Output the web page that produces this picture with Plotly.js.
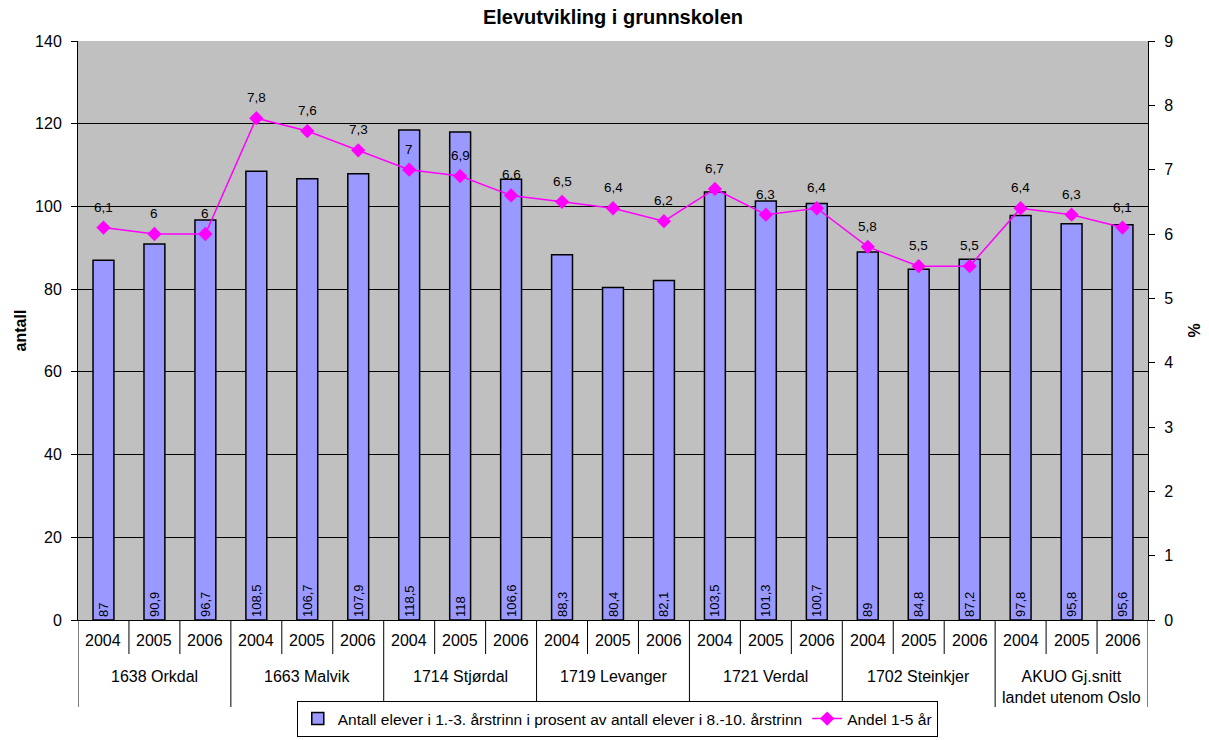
<!DOCTYPE html>
<html>
<head>
<meta charset="utf-8">
<script src="https://cdn.plot.ly/plotly-3.0.1.min.js"></script>
<style>html,body{margin:0;padding:0;background:#fff;}#chart{width:1209px;height:740px;}</style>
</head>
<body>
<div id="chart"></div>
<script>
const groups = ["1638 Orkdal", "1663 Malvik", "1714 Stjørdal", "1719 Levanger", "1721 Verdal", "1702 Steinkjer", "AKUO Gj.snitt<br>landet utenom Oslo"];
const years = ["2004", "2005", "2006"];
const antall = [87, 90.9, 96.7, 108.5, 106.7, 107.9, 118.5, 118, 106.6, 88.3, 80.4, 82.1, 103.5, 101.3, 100.7, 89, 84.8, 87.2, 97.8, 95.8, 95.6];
const andel = [6.1, 6, 6, 7.8, 7.6, 7.3, 7, 6.9, 6.6, 6.5, 6.4, 6.2, 6.7, 6.3, 6.4, 5.8, 5.5, 5.5, 6.4, 6.3, 6.1];
const barName = "Antall elever i 1.-3. årstrinn i prosent av antall elever i 8.-10. årstrinn";
const lineName = "Andel 1-5 år";

const FONT = 'Liberation Sans, Arial, sans-serif';
const fmt = v => String(v).replace('.', ',');
const n = antall.length;
const xs = antall.map((_, i) => i);

const plotH = 579; // pixel height of plot area
const py = px => -(px) / plotH; // pixels below axis -> paper y

const annotations = [];
const shapes = [];
// line labels
andel.forEach((v, i) => {
  annotations.push({x: i, y: v, xref: 'x', yref: 'y2', text: fmt(v), showarrow: false,
    yanchor: 'bottom', yshift: 11, font: {family: FONT, size: 13.5, color: '#000'}});
});
// year labels
xs.forEach(i => {
  annotations.push({x: i, y: py(20), xref: 'x', yref: 'paper', text: years[i % 3], showarrow: false,
    yanchor: 'middle', font: {family: FONT, size: 16, color: '#000'}});
});
// group labels
groups.forEach((g, gi) => {
  annotations.push({x: gi * 3 + 1, y: py(46), xref: 'x', yref: 'paper', text: g, showarrow: false,
    yanchor: 'top', font: {family: FONT, size: 16, color: '#000'}});
});
// axis table lines
for (let k = 0; k <= n; k++) {
  const xv = k - 0.5;
  const isGroup = (k % 3 === 0);
  shapes.push({type: 'line', xref: 'x', yref: 'paper', x0: xv, x1: xv, y0: 0, y1: isGroup ? py(87) : py(34),
    line: {color: '#000', width: 1}});
}

const traces = [
  {type: 'bar', x: xs, y: antall, name: barName, yaxis: 'y',
   marker: {color: '#9999FF', line: {color: '#000', width: 1.5}},
   width: 0.41,
   text: antall.map(fmt), textposition: 'inside', insidetextanchor: 'start', textangle: -90,
   constraintext: 'none',
   insidetextfont: {family: FONT, size: 13, color: '#000'},
   hoverinfo: 'skip'},
  {type: 'scatter', mode: 'lines+markers', x: xs, y: andel, name: lineName, yaxis: 'y2',
   line: {color: '#FF00FF', width: 1.5},
   marker: {symbol: 'diamond', size: 11, color: '#FF00FF'},
   hoverinfo: 'skip'}
];

const layout = {
  width: 1209, height: 740,
  margin: {l: 78, r: 61, t: 41, b: 120, autoexpand: false},
  paper_bgcolor: '#fff', plot_bgcolor: '#C0C0C0',
  font: {family: FONT, size: 16, color: '#000'},
  title: {text: '<b>Elevutvikling i grunnskolen</b>', x: 0.507, xanchor: 'center', y: 0.977, yanchor: 'middle',
          font: {size: 20, color: '#000'}},
  showlegend: true,
  legend: {orientation: 'h', x: 0.504, xanchor: 'center', y: py(117), yanchor: 'bottom',
           bordercolor: '#000', borderwidth: 1, bgcolor: '#fff',
           font: {size: 15.5, color: '#000'}, traceorder: 'normal', itemwidth: 30,
           tracegroupgap: 0},
  xaxis: {range: [-0.5, n - 0.5], showticklabels: false, ticks: '', showgrid: false, zeroline: false,
          showline: true, linecolor: '#000', linewidth: 1, mirror: false, fixedrange: true},
  yaxis: {title: {text: '<b>antall</b>', font: {size: 16}, standoff: 4}, range: [0, 140], dtick: 20, tick0: 0,
          ticks: 'outside', ticklen: 6, tickcolor: '#000', showgrid: true, gridcolor: '#000', gridwidth: 1,
          zeroline: false, showline: true, linecolor: '#000', linewidth: 1, mirror: false,
          ticklabelstandoff: 6, tickfont: {size: 16}},
  yaxis2: {title: {text: '<b>%</b>', font: {size: 16}, standoff: 16}, range: [0, 9], dtick: 1, tick0: 0, overlaying: 'y', side: 'right',
           ticks: 'outside', ticklen: 6, tickcolor: '#000', showgrid: false, zeroline: false,
           showline: true, linecolor: '#000', linewidth: 1, ticklabelstandoff: 6, tickfont: {size: 16}},
  annotations: annotations,
  shapes: shapes
};

Plotly.newPlot('chart', traces, layout, {displayModeBar: false, staticPlot: true});
</script>
</body>
</html>
